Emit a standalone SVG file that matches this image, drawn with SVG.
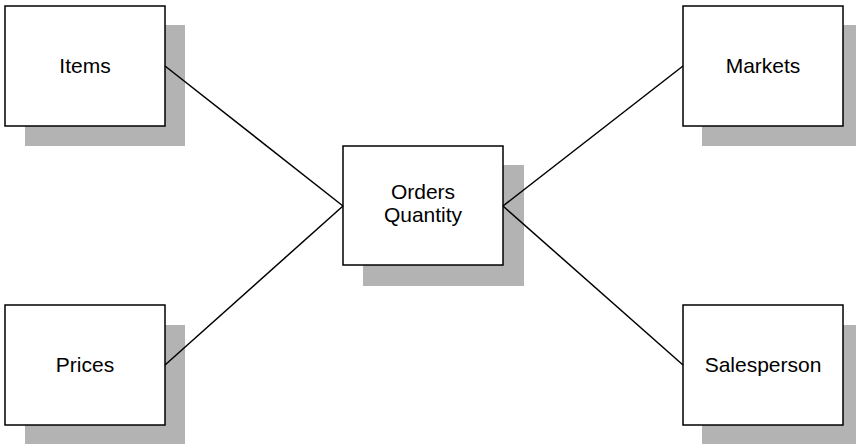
<svg xmlns="http://www.w3.org/2000/svg" width="856" height="444" viewBox="0 0 856 444">
<style>
.sh{fill:#b3b3b3;stroke:none}
.bx{fill:#fff;stroke:#000;stroke-width:1.5}
.t{font-family:"Liberation Sans",Arial,sans-serif;font-size:21px;fill:#000;text-anchor:middle}
.c line{stroke:#000;stroke-width:1.5}
</style>
<rect width="856" height="444" fill="#fff"/>
<g id="items">
<rect class="sh" x="25" y="25" width="160" height="121"/>
<rect class="bx" x="5" y="6" width="160" height="120"/>
<text class="t" x="85" y="73">Items</text>
</g>
<g id="prices">
<rect class="sh" x="25" y="325" width="160" height="119"/>
<rect class="bx" x="5" y="305" width="160" height="120"/>
<text class="t" x="85" y="372">Prices</text>
</g>
<g id="orders">
<rect class="sh" x="363" y="165" width="161" height="121"/>
<rect class="bx" x="343" y="146" width="160" height="119"/>
<text class="t" x="423" y="199">Orders</text>
<text class="t" x="423" y="222">Quantity</text>
</g>
<g id="markets">
<rect class="sh" x="702" y="25" width="154" height="121"/>
<rect class="bx" x="683" y="6" width="160" height="120"/>
<text class="t" x="763" y="73">Markets</text>
</g>
<g id="salesperson">
<rect class="sh" x="702" y="325" width="154" height="119"/>
<rect class="bx" x="683" y="305" width="160" height="120"/>
<text class="t" x="763" y="372">Salesperson</text>
</g>
<g class="c">
<line x1="165" y1="66" x2="343" y2="206"/>
<line x1="165" y1="365" x2="343" y2="206"/>
<line x1="503" y1="206" x2="683" y2="66"/>
<line x1="503" y1="206" x2="683" y2="365"/>
</g>
</svg>
